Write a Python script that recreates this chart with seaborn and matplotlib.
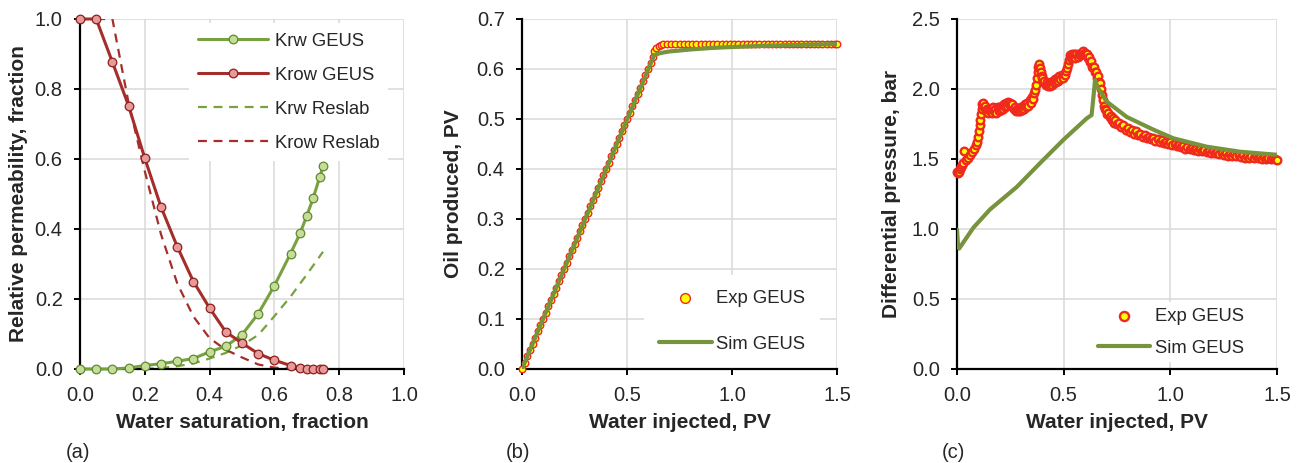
import matplotlib
matplotlib.use("Agg")
import matplotlib.pyplot as plt
from matplotlib.ticker import FormatStrFormatter, MultipleLocator
from matplotlib.lines import Line2D
import seaborn as sns

# ---------------- Panel (a): relative permeability ----------------
sw_geus = [0.00, 0.05, 0.10, 0.15, 0.20, 0.25, 0.30, 0.35, 0.40, 0.45, 0.50,
           0.55, 0.60, 0.65, 0.68, 0.70, 0.72, 0.74, 0.75]
krw_geus = [0.000, 0.000, 0.000, 0.003, 0.010, 0.015, 0.022, 0.030, 0.049, 0.065, 0.098,
            0.158, 0.238, 0.330, 0.389, 0.438, 0.489, 0.549, 0.579]
krow_geus = [1.000, 1.000, 0.877, 0.752, 0.602, 0.463, 0.350, 0.250, 0.174, 0.106, 0.074,
             0.044, 0.025, 0.010, 0.003, 0.000, 0.000, 0.000, 0.000]

sw_reslab_w = [0.20, 0.25, 0.30, 0.35, 0.40, 0.45, 0.50, 0.55, 0.60, 0.65, 0.70, 0.75]
krw_reslab = [0.000, 0.003, 0.008, 0.016, 0.030, 0.046, 0.068, 0.097, 0.151, 0.207, 0.270, 0.335]

sw_reslab_o = [0.05, 0.10, 0.15, 0.20, 0.25, 0.30, 0.35, 0.40, 0.45, 0.50, 0.55, 0.60, 0.65, 0.70]
krow_reslab = [1.000, 1.000, 0.760, 0.565, 0.385, 0.245, 0.150, 0.088, 0.055, 0.033, 0.013, 0.004, 0.000, 0.000]

# ---------------- Panel (b): oil produced ----------------
wi_exp_b = [0.000, 0.012, 0.025, 0.037, 0.050, 0.062, 0.075, 0.087, 0.100, 0.112,
            0.125, 0.137, 0.150, 0.162, 0.175, 0.187, 0.200, 0.212, 0.225, 0.237,
            0.250, 0.262, 0.275, 0.287, 0.300, 0.312, 0.325, 0.337, 0.350, 0.362,
            0.375, 0.387, 0.400, 0.412, 0.425, 0.437, 0.450, 0.462, 0.475, 0.487,
            0.500, 0.512, 0.525, 0.537, 0.550, 0.562, 0.575, 0.587, 0.600, 0.612,
            0.622, 0.630, 0.640, 0.650, 0.660, 0.670,
            0.69, 0.71, 0.73, 0.75, 0.77, 0.79, 0.81, 0.83, 0.85, 0.87,
            0.89, 0.91, 0.93, 0.95, 0.97, 0.99, 1.01, 1.03, 1.05, 1.07,
            1.09, 1.11, 1.13, 1.15, 1.17, 1.19, 1.21, 1.23, 1.25, 1.27,
            1.29, 1.31, 1.33, 1.35, 1.37, 1.39, 1.41, 1.43, 1.45, 1.47,
            1.49, 1.50]
oil_exp_b = [0.000, 0.013, 0.026, 0.038, 0.051, 0.063, 0.076, 0.088, 0.101, 0.113,
             0.126, 0.138, 0.151, 0.163, 0.176, 0.188, 0.201, 0.213, 0.226, 0.238,
             0.251, 0.263, 0.276, 0.288, 0.301, 0.313, 0.326, 0.338, 0.351, 0.363,
             0.376, 0.388, 0.401, 0.413, 0.426, 0.438, 0.451, 0.463, 0.476, 0.488,
             0.501, 0.513, 0.526, 0.538, 0.551, 0.563, 0.576, 0.588, 0.601, 0.613,
             0.624, 0.636, 0.643, 0.647, 0.649, 0.650,
             0.650, 0.650, 0.650, 0.650, 0.650, 0.650, 0.650, 0.650, 0.650, 0.650,
             0.650, 0.650, 0.650, 0.650, 0.650, 0.650, 0.650, 0.650, 0.650, 0.650,
             0.650, 0.650, 0.650, 0.650, 0.650, 0.650, 0.650, 0.650, 0.650, 0.650,
             0.650, 0.650, 0.650, 0.650, 0.650, 0.650, 0.650, 0.650, 0.650, 0.650,
             0.650, 0.650]
wi_sim_b = [0.00, 0.63, 0.66, 0.70, 0.80, 0.90, 1.00, 1.20, 1.50]
oil_sim_b = [0.000, 0.628, 0.632, 0.635, 0.639, 0.642, 0.644, 0.647, 0.650]

# ---------------- Panel (c): differential pressure ----------------
# early rise
wi_exp_c1 = [0.000, 0.005, 0.010, 0.015, 0.020, 0.025, 0.030, 0.035, 0.040, 0.050,
             0.060, 0.070, 0.080, 0.090, 0.095, 0.100, 0.103, 0.106, 0.109, 0.112,
             0.115, 0.118]
dp_exp_c1 = [1.41, 1.40, 1.41, 1.43, 1.44, 1.46, 1.47, 1.555, 1.49, 1.51,
             1.53, 1.55, 1.57, 1.60, 1.62, 1.66, 1.70, 1.74, 1.78, 1.82,
             1.86, 1.89]
# first plateau
wi_exp_c2 = [0.120, 0.125, 0.130, 0.135, 0.140, 0.145, 0.150, 0.155, 0.160, 0.165,
             0.170, 0.175, 0.180, 0.185, 0.190, 0.195, 0.200, 0.205, 0.210, 0.215,
             0.220, 0.225, 0.230, 0.235, 0.240, 0.245, 0.250, 0.255, 0.260, 0.265,
             0.270, 0.275, 0.280, 0.285, 0.290, 0.295, 0.300, 0.305, 0.310, 0.315,
             0.320, 0.325, 0.330, 0.335, 0.340, 0.345, 0.350, 0.355, 0.360]
dp_exp_c2 = [1.90, 1.87, 1.88, 1.84, 1.86, 1.83, 1.86, 1.84, 1.86, 1.83,
             1.87, 1.84, 1.86, 1.83, 1.87, 1.84, 1.87, 1.85, 1.88, 1.86,
             1.89, 1.87, 1.90, 1.88, 1.91, 1.89, 1.90, 1.88, 1.89, 1.86,
             1.87, 1.84, 1.86, 1.84, 1.86, 1.84, 1.87, 1.85, 1.88, 1.86,
             1.89, 1.87, 1.90, 1.88, 1.92, 1.90, 1.94, 1.93, 1.97]
# first spike
wi_exp_c3 = [0.365, 0.370, 0.375, 0.378, 0.381, 0.384, 0.388, 0.392, 0.397]
dp_exp_c3 = [1.99, 2.03, 2.08, 2.12, 2.16, 2.18, 2.15, 2.12, 2.09]
# second hump
wi_exp_c4 = [0.400, 0.405, 0.410, 0.415, 0.420, 0.425, 0.430, 0.435, 0.440, 0.445,
             0.450, 0.455, 0.460, 0.465, 0.470, 0.475, 0.480, 0.485, 0.490, 0.495,
             0.500, 0.505, 0.510, 0.515, 0.520, 0.525, 0.530, 0.535, 0.540, 0.545,
             0.550, 0.555, 0.560, 0.565, 0.570, 0.575, 0.580, 0.585, 0.590, 0.595,
             0.600, 0.605, 0.610, 0.615, 0.620, 0.625, 0.630, 0.635, 0.640, 0.645,
             0.650, 0.655, 0.660, 0.665, 0.670, 0.675, 0.680, 0.685, 0.690, 0.695]
dp_exp_c4 = [2.08, 2.05, 2.06, 2.03, 2.05, 2.02, 2.04, 2.02, 2.05, 2.03,
             2.06, 2.04, 2.07, 2.05, 2.08, 2.06, 2.09, 2.07, 2.10, 2.08,
             2.11, 2.10, 2.13, 2.15, 2.18, 2.21, 2.24, 2.22, 2.25, 2.23,
             2.25, 2.22, 2.25, 2.23, 2.25, 2.24, 2.26, 2.25, 2.27, 2.25,
             2.26, 2.24, 2.25, 2.22, 2.23, 2.19, 2.20, 2.16, 2.16, 2.12,
             2.12, 2.08, 2.09, 2.05, 2.04, 2.00, 1.96, 1.92, 1.88, 1.86]
# decline
wi_exp_c5 = [0.700, 0.705, 0.710, 0.715, 0.720, 0.725, 0.730, 0.735, 0.740, 0.750,
             0.760, 0.770, 0.780, 0.790, 0.800, 0.810, 0.820, 0.830, 0.840, 0.850,
             0.860, 0.870, 0.880, 0.890, 0.900, 0.910, 0.920, 0.930, 0.940, 0.950,
             0.960, 0.970, 0.980, 0.990, 1.000, 1.010, 1.020, 1.030, 1.040, 1.050,
             1.060, 1.070, 1.080, 1.090, 1.100, 1.110, 1.120, 1.130, 1.140, 1.150,
             1.160, 1.170, 1.180, 1.190, 1.200, 1.210, 1.220, 1.230, 1.240, 1.250,
             1.260, 1.270, 1.280, 1.290, 1.300, 1.310, 1.320, 1.330, 1.340, 1.350,
             1.360, 1.370, 1.380, 1.390, 1.400, 1.410, 1.420, 1.430, 1.440, 1.450,
             1.460, 1.470, 1.480, 1.490, 1.500]
dp_exp_c5 = [1.85, 1.82, 1.83, 1.80, 1.81, 1.78, 1.79, 1.76, 1.78, 1.75,
             1.76, 1.73, 1.74, 1.71, 1.72, 1.69, 1.71, 1.68, 1.70, 1.67,
             1.68, 1.66, 1.67, 1.65, 1.66, 1.64, 1.65, 1.63, 1.64, 1.62,
             1.635, 1.615, 1.625, 1.605, 1.62, 1.60, 1.61, 1.59, 1.60, 1.585,
             1.595, 1.575, 1.585, 1.57, 1.58, 1.565, 1.575, 1.56, 1.57, 1.555,
             1.565, 1.55, 1.56, 1.545, 1.555, 1.54, 1.55, 1.535, 1.545, 1.53,
             1.54, 1.525, 1.535, 1.52, 1.535, 1.52, 1.53, 1.515, 1.53, 1.51,
             1.525, 1.51, 1.52, 1.505, 1.52, 1.505, 1.515, 1.50, 1.515, 1.50,
             1.51, 1.50, 1.505, 1.50, 1.49]

wi_sim_c = [0.000, 0.004, 0.010, 0.030, 0.077, 0.155, 0.280, 0.389, 0.498, 0.608,
            0.631, 0.640, 0.647, 0.660, 0.702, 0.796, 0.858, 0.920, 1.014, 1.170,
            1.327, 1.500]
dp_sim_c = [0.995, 0.900, 0.860, 0.905, 1.010, 1.140, 1.300, 1.470, 1.636, 1.790,
            1.814, 1.950, 2.064, 2.010, 1.910, 1.800, 1.755, 1.710, 1.648, 1.588,
            1.552, 1.530]

wi_exp_c = wi_exp_c1 + wi_exp_c2 + wi_exp_c3 + wi_exp_c4 + wi_exp_c5
dp_exp_c = dp_exp_c1 + dp_exp_c2 + dp_exp_c3 + dp_exp_c4 + dp_exp_c5

# ---------------- styling ----------------
sns.set_style("white")
plt.rcParams['font.family'] = ['Liberation Sans', 'DejaVu Sans']

GREEN = "#77a23f"
GREEN_FACE = "#c6dd9a"
GREEN_EDGE = "#5f8a2e"
RED = "#a52d2a"
RED_FACE = "#e69a9a"
RED_EDGE = "#8c1f1c"
SIM = "#77933c"
EXP_FACE = "#ffff00"
EXP_EDGE = "#f0281e"
GRID = "#d9d9d9"

TICK_FS = 14.5
LABEL_FS = 15
LEG_FS = 13.3

W, H = 1304, 463
fig = plt.figure(figsize=(W / 100, H / 100), dpi=100)


def px_axes(x0, x1, y0, y1):
    return fig.add_axes([x0 / W, 1 - y1 / H, (x1 - x0) / W, (y1 - y0) / H])


def style_axes(ax, xmax, xstep, ymax, ystep, xlabel, ylabel, ylab_x):
    ax.set_xlim(0, xmax)
    ax.set_ylim(0, ymax)
    ax.xaxis.set_major_locator(MultipleLocator(xstep))
    ax.yaxis.set_major_locator(MultipleLocator(ystep))
    ax.xaxis.set_major_formatter(FormatStrFormatter('%.1f'))
    ax.yaxis.set_major_formatter(FormatStrFormatter('%.1f'))
    ax.set_axisbelow(True)
    ax.grid(True, color=GRID, linewidth=1.1)
    for s in ("top", "right"):
        ax.spines[s].set_visible(False)
    for s in ("left", "bottom"):
        ax.spines[s].set_color("black")
        ax.spines[s].set_linewidth(1.6)
        ax.spines[s].set_zorder(6)
    ax.tick_params(axis="both", which="major", direction="out", length=4.5, width=1.4,
                   color="black", labelsize=TICK_FS, pad=8, left=True, bottom=True)
    ax.set_xlabel(xlabel, fontsize=LABEL_FS, fontweight="bold")
    ax.set_ylabel(ylabel, fontsize=LABEL_FS, fontweight="bold")
    ax.xaxis.set_label_coords(0.5, -0.126)
    ax.yaxis.set_label_coords(ylab_x, 0.5)


# Panel (a)
axa = px_axes(80, 404, 19, 369)
sns.lineplot(x=sw_reslab_w, y=krw_reslab, color=GREEN, linewidth=1.6,
             linestyle=(0, (4, 3)), ax=axa, zorder=2)
sns.lineplot(x=sw_reslab_o, y=krow_reslab, color=RED, linewidth=1.6,
             linestyle=(0, (4, 3)), ax=axa, zorder=2)
sns.lineplot(x=sw_geus, y=krw_geus, color=GREEN, linewidth=2.2, marker="o",
             markersize=6.2, markerfacecolor=GREEN_FACE, markeredgecolor=GREEN_EDGE,
             markeredgewidth=0.9, ax=axa, zorder=7, clip_on=False)
sns.lineplot(x=sw_geus, y=krow_geus, color=RED, linewidth=2.2, marker="o",
             markersize=6.2, markerfacecolor=RED_FACE, markeredgecolor=RED_EDGE,
             markeredgewidth=0.9, ax=axa, zorder=7, clip_on=False)
style_axes(axa, 1.0, 0.2, 1.0, 0.2, "Water saturation, fraction",
           "Relative permeability, fraction", -0.16)
handles_a = [
    Line2D([], [], color=GREEN, lw=2.2, marker="o", ms=6.2, mfc=GREEN_FACE, mec=GREEN_EDGE, mew=0.9),
    Line2D([], [], color=RED, lw=2.2, marker="o", ms=6.2, mfc=RED_FACE, mec=RED_EDGE, mew=0.9),
    Line2D([], [], color=GREEN, lw=1.6, ls=(0, (4, 3))),
    Line2D([], [], color=RED, lw=1.6, ls=(0, (4, 3))),
]
axa.legend(handles_a, ["Krw GEUS", "Krow GEUS", "Krw Reslab", "Krow Reslab"],
           loc="upper left", bbox_to_anchor=(0.3356, 0.9874), borderaxespad=0,
           borderpad=0.5, handlelength=3.8, handletextpad=0.35, labelspacing=0.92,
           fontsize=LEG_FS, frameon=True, fancybox=False, framealpha=1,
           facecolor="white", edgecolor="none")

# Panel (b)
axb = px_axes(522, 837, 19, 369)
sns.scatterplot(x=wi_exp_b, y=oil_exp_b, s=22, color=EXP_FACE, edgecolor=EXP_EDGE,
                linewidth=1.0, ax=axb, zorder=7, clip_on=False, label="Exp GEUS")
sns.lineplot(x=wi_sim_b, y=oil_sim_b, color=SIM, linewidth=3.0, ax=axb, zorder=8,
             label="Sim GEUS")
style_axes(axb, 1.5, 0.5, 0.7, 0.1, "Water injected, PV", "Oil produced, PV", -0.187)
axb.legend(loc="upper left", bbox_to_anchor=(0.387, 0.2684), borderaxespad=0,
           borderpad=0.8, handlelength=2.9, handletextpad=0.22, labelspacing=1.57,
           markerscale=1.5, fontsize=LEG_FS, frameon=True, fancybox=False, framealpha=1,
           facecolor="white", edgecolor="none")

# Panel (c)
axc = px_axes(957, 1277, 19, 369)
sns.scatterplot(x=wi_exp_c, y=dp_exp_c, s=30, color=EXP_FACE, edgecolor=EXP_EDGE,
                linewidth=1.7, ax=axc, zorder=7, clip_on=False, label="Exp GEUS")
sns.lineplot(x=wi_sim_c, y=dp_sim_c, color=SIM, linewidth=3.0, ax=axc, zorder=8,
             label="Sim GEUS", sort=False)
style_axes(axc, 1.5, 0.5, 2.5, 0.5, "Water injected, PV", "Differential pressure, bar", -0.175)
axc.legend(loc="upper left", bbox_to_anchor=(0.4234, 0.1914), borderaxespad=0,
           borderpad=0.3, handlelength=2.8, handletextpad=0.27, labelspacing=0.82,
           markerscale=1.2, fontsize=LEG_FS, frameon=True, fancybox=False, framealpha=1,
           facecolor="white", edgecolor="none")

# Panel letters
for xc, t in [(78, "(a)"), (518, "(b)"), (953, "(c)")]:
    fig.text(xc / W, 1 - 452 / H, t, ha="center", va="center", fontsize=14.5)

fig.savefig("out.png", dpi=100)
